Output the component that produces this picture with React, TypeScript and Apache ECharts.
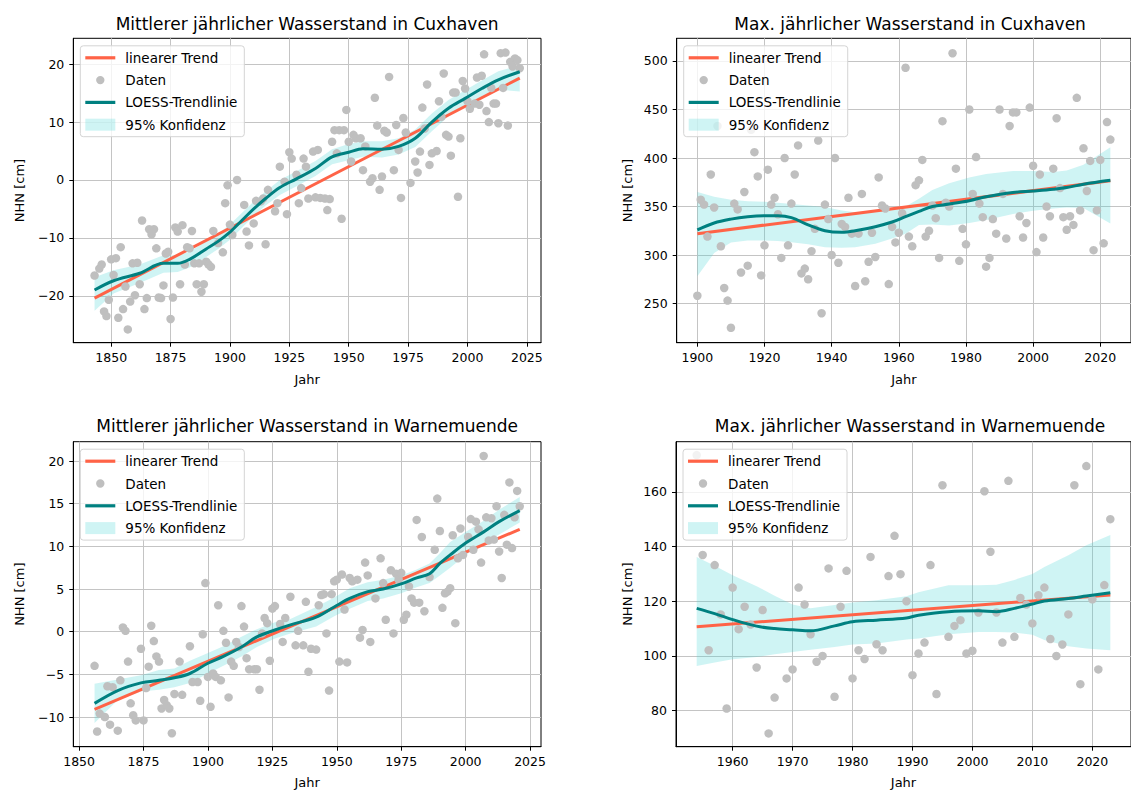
import { useEffect, useRef } from 'react';
import * as echarts from 'echarts';

const FONT = 'DejaVu Sans';
const RED = '#ff6347';
const TEAL = '#008080';
const DOT = '#bfbfbf';
const BAND = 'rgba(64,210,210,0.25)';

// ---------- Titles / legend names ----------
const titles = [
  'Mittlerer jährlicher Wasserstand in Cuxhaven',
  'Max. jährlicher Wasserstand in Cuxhaven',
  'Mittlerer jährlicher Wasserstand in Warnemuende',
  'Max. jährlicher Wasserstand in Warnemuende',
];
const legendNames = ['linearer Trend', 'Daten', 'LOESS-Trendlinie', '95% Konfidenz'];

// ---------- Tick labels ----------
const cuxMeanXTicks = [1850, 1875, 1900, 1925, 1950, 1975, 2000, 2025];
const cuxMeanYTicks = [-20, -10, 0, 10, 20];
const cuxMaxXTicks = [1900, 1920, 1940, 1960, 1980, 2000, 2020];
const cuxMaxYTicks = [250, 300, 350, 400, 450, 500];
const warnMeanXTicks = [1850, 1875, 1900, 1925, 1950, 1975, 2000, 2025];
const warnMeanYTicks = [-10, -5, 0, 5, 10, 15, 20];
const warnMaxXTicks = [1960, 1970, 1980, 1990, 2000, 2010, 2020];
const warnMaxYTicks = [80, 100, 120, 140, 160];

// ---------- Cuxhaven mean ----------
const cuxMeanPoints: [number, number][] = [
  [1843,-16.5],[1845,-15.3],[1846,-14.6],[1847,-22.7],[1848,-23.5],[1849,-20.7],[1850,-13.7],[1851,-16.4],
  [1852,-13.5],[1853,-23.8],[1854,-11.6],[1855,-22.3],[1856,-18.4],[1857,-25.8],[1858,-21.0],[1859,-14.4],
  [1860,-19.9],[1861,-14.3],[1862,-18.0],[1863,-7.0],[1864,-22.3],[1865,-20.4],[1866,-8.5],[1867,-9.4],
  [1868,-8.5],[1869,-11.8],[1870,-20.3],[1871,-20.4],[1872,-18.2],[1873,-12.7],[1874,-12.4],[1875,-24.0],
  [1876,-20.3],[1877,-8.2],[1878,-8.9],[1879,-18.0],[1880,-7.8],[1881,-14.6],[1882,-11.6],[1883,-11.8],
  [1884,-8.8],[1885,-14.4],[1886,-18.0],[1887,-14.4],[1888,-19.3],[1889,-18.0],[1890,-14.1],[1891,-14.6],
  [1892,-15.0],[1893,-8.8],[1895,-10.9],[1897,-12.5],[1898,-4.0],[1899,-0.9],[1900,-7.7],[1901,-9.5],
  [1903,0.0],[1906,-4.3],[1907,-8.9],[1908,-11.3],[1910,-7.5],[1911,-3.6],[1913,-3.7],[1914,-3.2],
  [1915,-11.1],[1916,-1.7],[1919,-5.4],[1920,-4.0],[1921,2.3],[1923,-0.3],[1924,-5.9],[1925,4.8],
  [1926,3.7],[1928,0.9],[1929,-4.0],[1930,-1.4],[1931,3.7],[1932,2.3],[1933,-3.2],[1935,4.9],
  [1936,-3.0],[1937,5.2],[1938,-3.1],[1940,-3.2],[1941,-5.2],[1942,-3.3],[1943,6.6],[1944,8.6],
  [1945,4.6],[1946,8.6],[1947,-6.7],[1948,8.6],[1949,12.1],[1950,6.6],[1951,3.2],[1952,7.8],
  [1953,7.2],[1955,7.2],[1956,1.7],[1957,5.8],[1959,-0.3],[1960,0.3],[1961,14.2],[1962,9.4],
  [1963,-1.7],[1964,0.6],[1965,8.5],[1966,8.2],[1967,17.8],[1969,1.7],[1970,9.5],[1971,5.2],
  [1972,-3.1],[1973,10.7],[1974,8.2],[1976,-0.5],[1978,3.2],[1979,1.3],[1980,4.9],[1981,12.5],
  [1982,8.9],[1983,16.5],[1984,2.6],[1985,4.6],[1987,5.0],[1988,13.6],[1989,10.9],[1990,18.4],
  [1991,7.8],[1992,7.5],[1993,4.2],[1994,15.1],[1995,15.1],[1996,-2.9],[1997,7.2],[1998,17.1],
  [1999,15.8],[2000,13.6],[2001,12.3],[2003,13.2],[2004,17.7],[2005,13.0],[2006,18.0],[2007,21.7],
  [2008,11.9],[2009,10.0],[2010,15.9],[2011,13.2],[2012,13.2],[2013,9.8],[2014,21.9],[2015,15.9],
  [2016,22.0],[2017,9.4],[2018,20.4],[2019,19.6],[2020,21.0],[2021,20.7],[2022,19.3],
];
const cuxMeanTrend: [number, number][] = [[1843, -20.4], [2022, 17.6]];
const cuxMeanLoessYears = [1843,1851,1862,1872,1878,1883,1890,1895,1900,1905,1910,1915,1921,1928,1936,1943,1950,1956,1964,1971,1978,1985,1992,1999,2006,2013,2022];
const cuxMeanLoess =      [-19.0,-17.4,-16.1,-14.4,-14.4,-13.7,-11.9,-10.6,-9.0,-7.0,-5.0,-3.2,-1.3,0.2,2.0,4.0,4.8,5.4,5.3,5.8,7.2,10.0,12.4,14.1,15.8,17.3,18.7];
const cuxMeanBandUpper =  [-16.8,-15.6,-14.6,-13.0,-13.0,-12.4,-10.6,-9.3,-7.7,-5.7,-3.7,-2.0,0.0,1.5,3.3,5.3,6.2,6.7,6.7,7.2,8.7,11.5,13.8,15.5,17.2,18.8,19.8];
const cuxMeanBandLower =  [-22.6,-19.6,-17.8,-16.0,-15.9,-15.1,-13.3,-11.9,-10.3,-8.3,-6.2,-4.4,-2.6,-1.1,0.7,2.7,3.4,4.0,3.9,4.4,5.7,8.4,11.0,12.7,14.3,15.6,15.3];

// ---------- Cuxhaven max ----------
const cuxMaxPoints: [number, number][] = [
  [1900,258],[1901,357],[1902,352],[1903,319],[1904,383],[1905,349],[1906,433],[1907,309],[1908,266],
  [1909,253],[1910,225],[1911,353],[1912,347],[1913,282],[1914,365],[1915,289],[1916,429],[1917,406],
  [1918,381],[1919,279],[1920,310],[1921,388],[1922,352],[1923,359],[1924,342],[1925,297],[1926,400],
  [1927,310],[1928,353],[1929,383],[1930,413],[1931,281],[1932,286],[1933,275],[1934,304],[1935,327],
  [1936,418],[1937,240],[1938,352],[1939,337],[1940,300],[1941,400],[1942,292],[1943,332],[1944,329],
  [1945,359],[1946,322],[1947,268],[1948,322],[1949,363],[1950,273],[1951,293],[1952,323],[1953,298],
  [1954,380],[1955,351],[1956,348],[1957,270],[1958,329],[1959,313],[1960,323],[1961,343],[1962,493],
  [1963,319],[1964,309],[1965,372],[1966,377],[1967,398],[1968,319],[1969,325],[1970,351],[1971,338],
  [1972,297],[1973,438],[1974,354],[1975,350],[1976,508],[1977,389],[1978,294],[1979,327],[1980,311],
  [1981,450],[1982,363],[1983,401],[1984,353],[1985,339],[1986,288],[1987,297],[1988,337],[1989,322],
  [1990,450],[1991,363],[1992,317],[1993,433],[1994,447],[1995,447],[1996,340],[1997,318],[1998,333],
  [1999,452],[2000,392],[2001,303],[2002,383],[2003,318],[2004,350],[2005,340],[2006,389],[2007,441],
  [2008,369],[2009,339],[2010,326],[2011,340],[2012,331],[2013,462],[2014,346],[2015,410],[2016,366],
  [2017,397],[2018,305],[2019,346],[2020,398],[2021,312],[2022,437],[2023,419],
];
const cuxMaxTrend: [number, number][] = [[1900, 322], [2023, 376.5]];
const cuxMaxLoessYears = [1900,1905,1910,1915,1920,1924,1928,1933,1938,1943,1947,1953,1958,1962,1966,1970,1975,1981,1986,1994,2000,2006,2010,2015,2023];
const cuxMaxLoess =      [325.8,333,337,339.5,340.5,340.5,338.5,331,325,323.4,325,329.2,334,339.5,345,350,352.5,356,360,364.4,366,367.8,369.5,373,377];
const cuxMaxBandUpper =  [365,360,357,355.5,355,354,352.5,351,349.5,346,344,345.6,347,350,358,367,374,380,383.5,386.6,386.6,385.5,387,393,411];
const cuxMaxBandLower =  [278,302,313,315,315,314.5,313.2,311,308,307.5,308,311.5,317,322,331,331.5,330.3,333,336,342.2,345.5,348,349,348.5,332.6];

// ---------- Warnemuende mean ----------
const warnMeanPoints: [number, number][] = [
  [1856,-4.0],[1857,-11.7],[1858,-9.6],[1860,-10.0],[1861,-6.4],[1862,-10.9],[1863,-6.5],[1865,-11.6],
  [1866,-5.7],[1867,0.5],[1868,0.1],[1869,-3.5],[1870,-8.4],[1871,-9.8],[1872,-10.4],[1874,-2.0],
  [1875,-10.4],[1876,-6.6],[1877,-4.1],[1878,0.7],[1879,-1.1],[1880,-2.9],[1881,-3.5],[1882,-9.0],
  [1883,-8.0],[1884,-8.6],[1885,-9.0],[1886,-11.9],[1887,-7.3],[1889,-3.5],[1890,-7.4],[1893,-1.7],
  [1894,-5.9],[1896,-5.9],[1897,-8.1],[1898,-0.3],[1899,5.7],[1900,-5.3],[1901,-8.8],[1902,-4.9],
  [1903,-5.3],[1904,3.1],[1905,-5.7],[1906,0.1],[1907,-1.3],[1908,-7.7],[1909,-3.5],[1910,-4.0],
  [1911,-1.2],[1912,-1.8],[1913,3.0],[1914,0.6],[1915,-3.1],[1916,-4.4],[1918,-4.4],[1919,-4.4],
  [1920,-6.8],[1921,-0.2],[1922,1.6],[1923,1.0],[1924,-3.4],[1925,2.7],[1926,3.0],[1928,0.9],
  [1929,-1.2],[1930,1.6],[1932,4.1],[1934,-1.6],[1935,0.1],[1937,-1.6],[1938,3.5],[1939,-4.7],
  [1940,-2.0],[1942,-2.1],[1943,3.1],[1944,4.3],[1945,4.4],[1946,-0.2],[1947,-6.9],[1948,4.4],
  [1949,5.9],[1950,6.1],[1951,-3.5],[1952,6.7],[1953,2.6],[1954,-3.6],[1955,6.3],[1956,5.9],
  [1958,6.1],[1959,-0.7],[1960,0.2],[1961,8.1],[1962,6.6],[1963,-1.2],[1965,3.9],[1967,8.6],
  [1968,5.7],[1969,1.4],[1971,7.2],[1972,-0.2],[1973,6.8],[1974,6.1],[1975,6.9],[1976,1.4],
  [1977,2.0],[1978,5.3],[1979,3.9],[1980,3.4],[1981,13.1],[1982,3.4],[1983,11.1],[1984,2.4],
  [1986,6.4],[1988,9.6],[1989,15.6],[1990,11.8],[1991,2.8],[1992,4.5],[1993,4.7],[1994,5.1],
  [1995,11.3],[1996,1.0],[1997,8.6],[1998,12.1],[1999,9.0],[2001,11.1],[2002,13.2],[2003,9.6],
  [2004,12.9],[2005,12.0],[2006,8.1],[2007,20.6],[2008,13.4],[2009,10.7],[2010,13.3],[2011,10.8],
  [2012,14.7],[2013,9.4],[2014,6.3],[2015,13.7],[2016,10.2],[2017,17.5],[2018,9.8],[2019,13.4],
  [2020,16.5],[2021,14.7],
];
const warnMeanTrend: [number, number][] = [[1856, -9.1], [2021, 12.0]];
const warnMeanLoessYears = [1856,1865,1874,1881,1887,1893,1900,1906,1913,1919,1926,1932,1942,1949,1955,1962,1968,1975,1981,1986,1990,1994,2000,2007,2013,2021];
const warnMeanLoess =      [-8.4,-6.9,-6.0,-5.7,-5.4,-4.9,-3.7,-2.9,-1.8,-0.6,0.2,0.8,1.7,2.9,3.9,4.7,5.0,5.6,6.3,6.8,8.0,9.0,10.4,11.7,12.9,14.2];
const warnMeanBandUpper =  [-6.1,-5.6,-5.1,-4.5,-4.3,-3.4,-2.5,-1.7,-0.6,0.3,1.1,1.5,2.9,4.0,5.1,5.8,6.1,6.6,7.3,8.0,9.2,10.5,11.7,13.0,14.3,15.8];
const warnMeanBandLower =  [-10.7,-8.0,-7.0,-6.8,-6.5,-6.0,-4.9,-4.0,-2.9,-1.8,-0.8,-0.2,0.6,1.8,2.7,3.6,3.9,4.5,5.2,5.7,6.6,7.5,9.0,10.4,11.4,12.8];

// ---------- Warnemuende max ----------
const warnMaxPoints: [number, number][] = [
  [1954,173.4],[1955,136.9],[1956,102.1],[1957,133.2],[1958,115.2],[1959,80.8],[1960,125.0],[1961,109.8],
  [1962,118.0],[1963,111.5],[1964,95.8],[1965,116.8],[1966,71.7],[1967,84.8],[1968,153.9],[1969,91.8],
  [1970,95.1],[1971,125.0],[1972,118.8],[1973,107.9],[1974,97.9],[1975,100.0],[1976,132.0],[1977,85.1],
  [1978,118.0],[1979,131.1],[1980,91.8],[1981,102.1],[1982,98.9],[1983,136.2],[1984,104.3],[1985,102.1],
  [1986,129.2],[1987,143.9],[1988,129.9],[1989,120.0],[1990,93.0],[1991,100.9],[1992,104.9],[1993,133.2],
  [1994,86.1],[1995,162.4],[1996,107.0],[1997,111.0],[1998,113.1],[1999,100.9],[2000,101.9],[2001,115.9],
  [2002,160.2],[2003,138.1],[2004,115.9],[2005,104.9],[2006,164.0],[2007,107.0],[2008,121.2],[2009,118.8],
  [2010,111.9],[2011,122.2],[2012,125.0],[2013,106.2],[2014,100.0],[2015,104.2],[2016,115.2],[2017,162.4],
  [2018,89.7],[2019,169.4],[2020,120.7],[2021,95.1],[2022,125.9],[2023,150.0],
];
const warnMaxTrend: [number, number][] = [[1954, 110.7], [2023, 122.3]];
const warnMaxLoessYears = [1954,1957,1960,1964,1967,1970,1973,1977,1980,1984,1989,1991,1996,2001,2004,2007,2010,2012,2016,2019,2023];
const warnMaxLoess =      [117.4,115.5,113.3,110.9,110.0,109.6,109.2,111.0,112.5,113.1,113.9,114.9,116.2,116.5,116.2,117.4,119.0,120.1,121.0,121.9,123.1];
const warnMaxBandUpper =  [136.2,133.0,129.5,125.5,122.0,118.8,117.4,118.6,119.5,120.4,121.8,123.3,125.8,125.8,126.0,127.8,130.0,132.5,136.8,140.5,144.2];
const warnMaxBandLower =  [96.3,97.6,98.8,99.6,100.6,101.5,102.3,103.3,104.2,104.6,106.0,106.4,107.9,108.8,108.8,108.6,107.8,105.8,103.6,102.7,102.1];

// ---------- Layout (positions, not data) ----------
const panels = [
  {
    title: titles[0], points: cuxMeanPoints, trend: cuxMeanTrend,
    loessYears: cuxMeanLoessYears, loess: cuxMeanLoess, upper: cuxMeanBandUpper, lower: cuxMeanBandLower,
    xTicks: cuxMeanXTicks, yTicks: cuxMeanYTicks, xMin: 1834.05, xMax: 2030.95, yMin: -28.1, yMax: 24.47,
    left: 73.3, top: 38.3, width: 467.7, height: 304.4, yNameGap: 47, xNameGap: 30, titleTop: 15,
  },
  {
    title: titles[1], points: cuxMaxPoints, trend: cuxMaxTrend,
    loessYears: cuxMaxLoessYears, loess: cuxMaxLoess, upper: cuxMaxBandUpper, lower: cuxMaxBandLower,
    xTicks: cuxMaxXTicks, yTicks: cuxMaxYTicks, xMin: 1893.85, xMax: 2029.15, yMin: 209.6, yMax: 523.4,
    left: 676.7, top: 38.3, width: 466.8, height: 304.4, yNameGap: 43, xNameGap: 30, titleTop: 15,
  },
  {
    title: titles[2], points: warnMeanPoints, trend: warnMeanTrend,
    loessYears: warnMeanLoessYears, loess: warnMeanLoess, upper: warnMeanBandUpper, lower: warnMeanBandLower,
    xTicks: warnMeanXTicks, yTicks: warnMeanYTicks, xMin: 1847.75, xMax: 2029.25, yMin: -13.48, yMax: 22.27,
    left: 73.3, top: 441.7, width: 467.7, height: 305, yNameGap: 47, xNameGap: 29, titleTop: 417.5,
  },
  {
    title: titles[3], points: warnMaxPoints, trend: warnMaxTrend,
    loessYears: warnMaxLoessYears, loess: warnMaxLoess, upper: warnMaxBandUpper, lower: warnMaxBandLower,
    xTicks: warnMaxXTicks, yTicks: warnMaxYTicks, xMin: 1950.55, xMax: 2026.45, yMin: 66.85, yMax: 178.3,
    left: 676, top: 441.7, width: 468, height: 305, yNameGap: 42, xNameGap: 29, titleTop: 417.5,
  },
];

const DOT_ICON = 'path://M0,0M30,12M10.8,6a4.2,4.2 0 1 0 8.4,0a4.2,4.2 0 1 0 -8.4,0Z';
const LINE_ICON = 'path://M0,0H30V3.2H0Z';

function buildOption() {
  const grid: any[] = [];
  const xAxis: any[] = [];
  const yAxis: any[] = [];
  const title: any[] = [];
  const legend: any[] = [];
  const series: any[] = [];

  panels.forEach((p, i) => {
    grid.push({
      left: p.left, top: p.top, width: p.width, height: p.height,
      show: true, borderColor: '#000', borderWidth: 1, backgroundColor: 'transparent',
    });
    title.push({
      text: p.title, left: p.left + p.width / 2, top: p.titleTop, textAlign: 'center', padding: 0,
      textStyle: { fontFamily: FONT, fontSize: 17, fontWeight: 'normal', color: '#000' },
    });
    const tickLabel = { fontFamily: FONT, fontSize: 12.5, color: '#000' };
    xAxis.push({
      type: 'value', gridIndex: i, min: p.xMin, max: p.xMax,
      name: 'Jahr', nameLocation: 'middle', nameGap: p.xNameGap,
      nameTextStyle: { fontFamily: FONT, fontSize: 13, color: '#000' },
      axisLine: { show: true, onZero: false, lineStyle: { color: '#000', width: 1 } },
      axisTick: { show: true, inside: false, length: 4, customValues: p.xTicks, lineStyle: { color: '#000', width: 1 } },
      axisLabel: { ...tickLabel, margin: 8, customValues: p.xTicks, formatter: (v: number) => String(v) },
      splitLine: { show: true, lineStyle: { color: '#c4c4c4', width: 1 } },
    });
    yAxis.push({
      type: 'value', gridIndex: i, min: p.yMin, max: p.yMax,
      name: 'NHN [cm]', nameLocation: 'middle', nameGap: p.yNameGap,
      nameTextStyle: { fontFamily: FONT, fontSize: 13, color: '#000' },
      axisLine: { show: true, onZero: false, lineStyle: { color: '#000', width: 1 } },
      axisTick: { show: true, inside: false, length: 4, customValues: p.yTicks, lineStyle: { color: '#000', width: 1 } },
      axisLabel: { ...tickLabel, margin: 9, customValues: p.yTicks, formatter: (v: number) => String(v).replace('-', '\u2212') },
      splitLine: { show: true, lineStyle: { color: '#c4c4c4', width: 1 } },
    });
    legend.push({
      orient: 'vertical', left: p.left + 7, top: p.top + 7.5, z: 10,
      selectedMode: false,
      data: [
        { name: legendNames[0], icon: LINE_ICON, itemStyle: { color: RED } },
        { name: legendNames[1], icon: DOT_ICON, itemStyle: { color: DOT } },
        { name: legendNames[2], icon: LINE_ICON, itemStyle: { color: TEAL } },
        { name: legendNames[3], icon: 'rect', itemStyle: { color: BAND } },
      ],
      itemWidth: 30, itemHeight: 12, itemGap: 8.3,
      textStyle: { fontFamily: FONT, fontSize: 13.5, color: '#000', padding: [0, 0, 0, 5] },
      backgroundColor: 'rgba(255,255,255,0.8)', borderColor: '#d4d4d4', borderWidth: 1, borderRadius: 3,
      padding: [5, 7, 5, 5],
    });

    const years = p.loessYears;
    const up = p.upper;
    const lo = p.lower;
    series.push({
      type: 'custom', name: legendNames[3], xAxisIndex: i, yAxisIndex: i, z: 1, silent: true,
      itemStyle: { color: BAND },
      data: [[years[0], up[0]]],
      renderItem: (_params: any, api: any) => {
        const pts: number[][] = [];
        for (let k = 0; k < years.length; k++) pts.push(api.coord([years[k], up[k]]));
        for (let k = years.length - 1; k >= 0; k--) pts.push(api.coord([years[k], lo[k]]));
        return { type: 'polygon', shape: { points: pts }, style: { fill: BAND } };
      },
    });
    series.push({
      type: 'line', name: legendNames[0], xAxisIndex: i, yAxisIndex: i, z: 2,
      data: p.trend, symbol: 'none', silent: true,
      lineStyle: { color: RED, width: 3 }, itemStyle: { color: RED },
    });
    series.push({
      type: 'scatter', name: legendNames[1], xAxisIndex: i, yAxisIndex: i, z: 3,
      data: p.points, symbol: 'circle', symbolSize: 8.5, silent: true,
      itemStyle: { color: DOT, opacity: 1 },
    });
    series.push({
      type: 'line', name: legendNames[2], xAxisIndex: i, yAxisIndex: i, z: 4,
      data: years.map((y, k) => [y, p.loess[k]]), symbol: 'none', smooth: 0.35, silent: true,
      lineStyle: { color: TEAL, width: 3 }, itemStyle: { color: TEAL },
    });
  });

  return { animation: false, backgroundColor: '#fff', grid, xAxis, yAxis, title, legend, series };
}

export default function App() {
  const ref = useRef<HTMLDivElement>(null);
  useEffect(() => {
    if (!ref.current) return;
    const chart = echarts.init(ref.current, undefined, { renderer: 'svg' });
    chart.setOption(buildOption() as any);
    return () => chart.dispose();
  }, []);
  return (
    <div
      ref={ref}
      style={{ position: 'absolute', left: 0, top: 0, width: 1131, height: 791, overflow: 'hidden', background: '#fff' }}
    />
  );
}
